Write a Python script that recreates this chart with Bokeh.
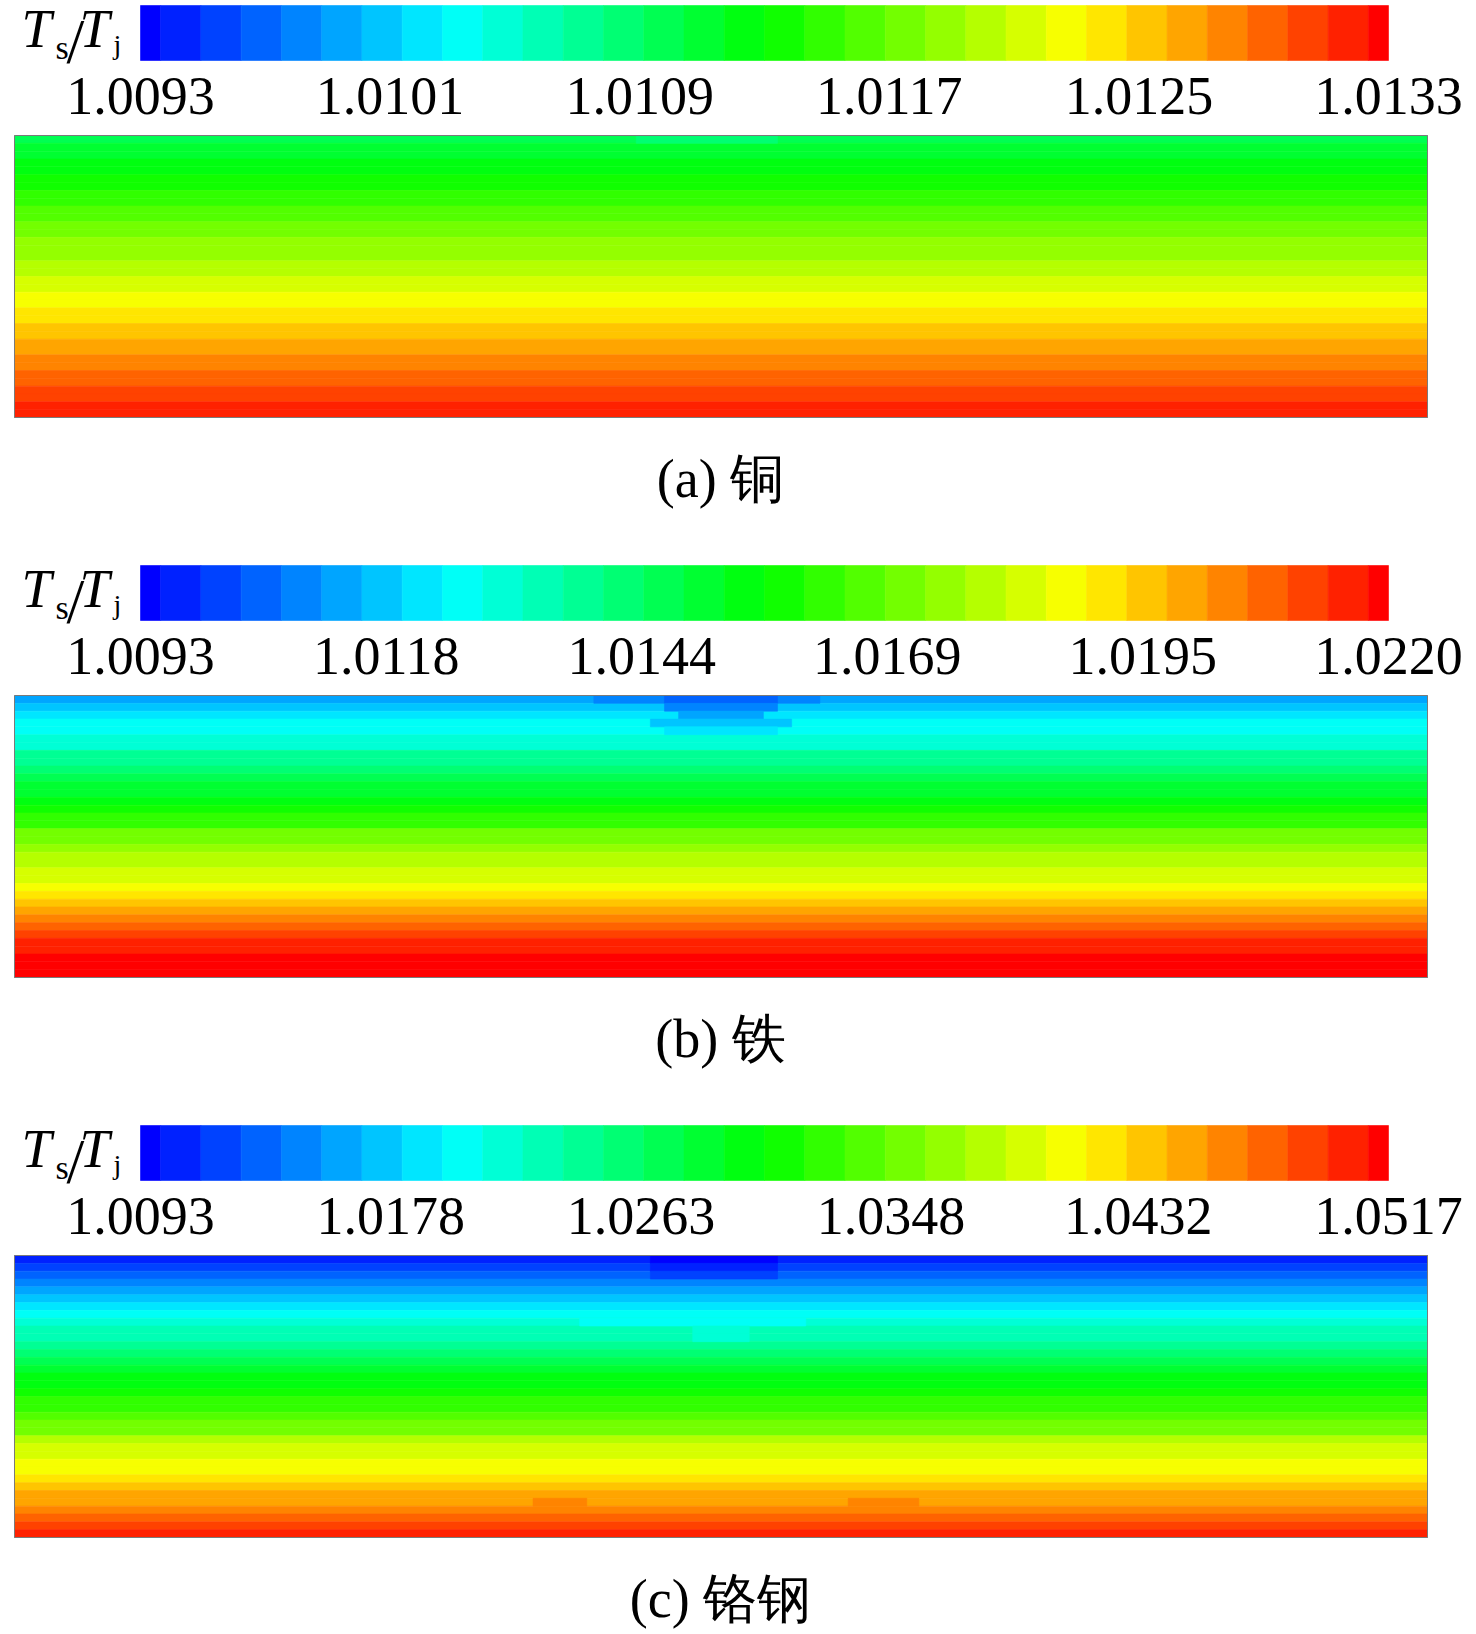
import colorsys
import numpy as np
from bokeh.plotting import figure
from bokeh.models import Range1d, LinearColorMapper, ColumnDataSource
from bokeh.core.properties import value
from bokeh.embed import file_html
from bokeh.resources import INLINE

# ---------------- data ----------------
captions = ["(a) 铜", "(b) 铁", "(c) 铬钢"]

range_a = [1.0093, 1.0133]
range_b = [1.0093, 1.0220]
range_c = [1.0093, 1.0517]

ticks_a = ["1.0093", "1.0101", "1.0109", "1.0117", "1.0125", "1.0133"]
ticks_b = ["1.0093", "1.0118", "1.0144", "1.0169", "1.0195", "1.0220"]
ticks_c = ["1.0093", "1.0178", "1.0263", "1.0348", "1.0432", "1.0517"]

# Ts/Tj value of each horizontal layer, from the top wall (row 0) to the bottom wall
rows_a = [1.01098, 1.01111, 1.01111, 1.01124, 1.01124, 1.01136, 1.01136, 1.01149, 1.01149,
          1.01162, 1.01162, 1.01175, 1.01175, 1.01188, 1.01188, 1.01188, 1.01201, 1.01201,
          1.01214, 1.01214, 1.01227, 1.01227, 1.01240, 1.01240, 1.01253, 1.01253, 1.01265,
          1.01265, 1.01278, 1.01278, 1.01291, 1.01291, 1.01304, 1.01304, 1.01317, 1.01317]
rows_b = [1.01135, 1.01176, 1.01217, 1.01258, 1.01258, 1.01299, 1.01299, 1.01381, 1.01381,
          1.01422, 1.01463, 1.01504, 1.01504, 1.01545, 1.01585, 1.01626, 1.01626, 1.01708,
          1.01708, 1.01749, 1.01790, 1.01790, 1.01831, 1.01831, 1.01872, 1.01913, 1.01954,
          1.01995, 1.02036, 1.02077, 1.02118, 1.02159, 1.02159, 1.02200, 1.02200, 1.02200]
rows_c = [1.01067, 1.01204, 1.01340, 1.01477, 1.01614, 1.01751, 1.01887, 1.02024, 1.02161,
          1.02298, 1.02298, 1.02435, 1.02571, 1.02708, 1.02845, 1.02982, 1.02982, 1.03118,
          1.03255, 1.03255, 1.03392, 1.03529, 1.03529, 1.03802, 1.03939, 1.03939, 1.04076,
          1.04076, 1.04213, 1.04349, 1.04486, 1.04486, 1.04623, 1.04760, 1.04896, 1.05033]

# local patches (row index, start/end along the length 0..1, value)
spot_rows_a = [0]
spot_x0_a = [0.44]
spot_x1_a = [0.54]
spot_val_a = [1.01085]

spot_rows_b = [0, 0, 1, 2, 3, 4]
spot_x0_b = [0.41, 0.46, 0.46, 0.47, 0.45, 0.46]
spot_x1_b = [0.57, 0.54, 0.54, 0.53, 0.55, 0.54]
spot_val_b = [1.01094, 1.01053, 1.01094, 1.01135, 1.01176, 1.01217]

spot_rows_c = [0, 1, 2, 8, 9, 10, 31, 31]
spot_x0_c = [0.45, 0.45, 0.45, 0.40, 0.48, 0.48, 0.367, 0.59]
spot_x1_c = [0.54, 0.54, 0.54, 0.56, 0.52, 0.52, 0.405, 0.64]
spot_val_c = [1.0093, 1.01067, 1.01204, 1.02024, 1.02161, 1.02161, 1.04623, 1.04623]

# ---------------- style / layout ----------------
N_COLORS = 32
palette = []
for i in range(N_COLORS):
    h = (240.0 * (1 - i / (N_COLORS - 1))) / 360.0
    r, g, b = colorsys.hsv_to_rgb(h, 1.0, 1.0)
    palette.append("#%02x%02x%02x" % (int(round(r * 255)), int(round(g * 255)), int(round(b * 255))))

SERIF = "Liberation Serif"
W, H = 1476, 1634
OFFS = [0, 560, 1120]            # vertical offset of each panel
CB_X0, CB_X1 = 140, 1388         # colour-bar ends
CB_TOP, CB_BOT = 5, 60
LABEL_Y = 95
FX0, FW = 14, 1413               # field left edge and width
FIELD_TOP, FIELD_H = 135, 282
CAP_X, CAP_Y = 720, 478

panels = [
    (range_a, ticks_a, rows_a, spot_rows_a, spot_x0_a, spot_x1_a, spot_val_a, captions[0]),
    (range_b, ticks_b, rows_b, spot_rows_b, spot_x0_b, spot_x1_b, spot_val_b, captions[1]),
    (range_c, ticks_c, rows_c, spot_rows_c, spot_x0_c, spot_x1_c, spot_val_c, captions[2]),
]

xr = {"fx": Range1d(-FX0 / FW, (W - FX0) / FW)}
yr = {}
for k, (rng, ticks, rows, *_rest) in enumerate(panels):
    lo, hi = rng
    pp = (hi - lo) / (CB_X1 - CB_X0)
    xr["cb%d" % k] = Range1d(lo - CB_X0 * pp, hi + (W - CB_X1) * pp)
    n = len(rows)
    ft = FIELD_TOP + OFFS[k]
    yr["fy%d" % k] = Range1d((H - ft) * n / FIELD_H, -ft * n / FIELD_H)

p = figure(width=W, height=H, x_range=Range1d(0, W), y_range=Range1d(H, 0),
           x_axis_location=None, y_axis_location=None, min_border=0,
           toolbar_location=None, output_backend="svg", outline_line_color=None)
p.extra_x_ranges = xr
p.extra_y_ranges = yr
p.grid.visible = False

for k, (rng, ticks, rows, s_rows, s_x0, s_x1, s_val, caption) in enumerate(panels):
    off = OFFS[k]
    lo, hi = rng
    d = (hi - lo) / (N_COLORS - 1)

    # colour bar
    centers = lo + d * np.arange(N_COLORS)
    cb = ColumnDataSource(dict(left=np.clip(centers - d / 2, lo, hi),
                               right=np.clip(centers + d / 2, lo, hi), color=palette))
    p.quad(left="left", right="right", top=CB_TOP + off, bottom=CB_BOT + off, source=cb,
           fill_color="color", line_color="color", line_width=0.6, x_range_name="cb%d" % k)
    p.text(x=[float(t) for t in ticks], y=[LABEL_Y + off] * len(ticks), text=ticks,
           x_range_name="cb%d" % k, text_font=value(SERIF), text_font_size="54px",
           text_align="center", text_baseline="alphabetic", text_color="black")

    # title  T_s / T_j
    p.text(x=[21, 79], y=[28 + off, 28 + off], text=["T", "T"], text_font=value(SERIF),
           text_font_style="italic", text_font_size="54px", text_baseline="alphabetic",
           text_color="black")
    p.text(x=[55], y=[47 + off], text=["s"], text_font=value(SERIF), text_font_size="34px",
           text_baseline="alphabetic", text_color="black")
    p.text(x=[66], y=[41 + off], text=["/"], text_font=value(SERIF), text_font_size="64px",
           text_baseline="alphabetic", text_color="black")
    p.text(x=[113], y=[44 + off], text=["j"], text_font=value(SERIF), text_font_size="28px",
           text_baseline="alphabetic", text_color="black")

    # temperature field
    mapper = LinearColorMapper(palette=palette, low=lo - d / 2, high=hi + d / 2)
    n = len(rows)
    idx = np.arange(n)
    fs = ColumnDataSource(dict(top=idx, bottom=idx + 1, left=np.zeros(n), right=np.ones(n), v=rows))
    p.quad(left="left", right="right", top="top", bottom="bottom", source=fs,
           fill_color={"field": "v", "transform": mapper},
           line_color={"field": "v", "transform": mapper}, line_width=0.6,
           x_range_name="fx", y_range_name="fy%d" % k)
    sr = np.array(s_rows)
    ss = ColumnDataSource(dict(top=sr, bottom=sr + 1, left=s_x0, right=s_x1, v=s_val))
    p.quad(left="left", right="right", top="top", bottom="bottom", source=ss,
           fill_color={"field": "v", "transform": mapper},
           line_color={"field": "v", "transform": mapper}, line_width=0.6,
           x_range_name="fx", y_range_name="fy%d" % k)
    p.quad(left=0, right=1, top=0, bottom=n, fill_color=None, line_color="#7a7a7a", line_width=1,
           x_range_name="fx", y_range_name="fy%d" % k)

    # caption
    p.text(x=[CAP_X], y=[CAP_Y + off], text=[caption], text_font=value(SERIF),
           text_font_size="54px", text_align="center", text_baseline="alphabetic",
           text_color="black")

open("out.html", "w").write(file_html(p, INLINE))
